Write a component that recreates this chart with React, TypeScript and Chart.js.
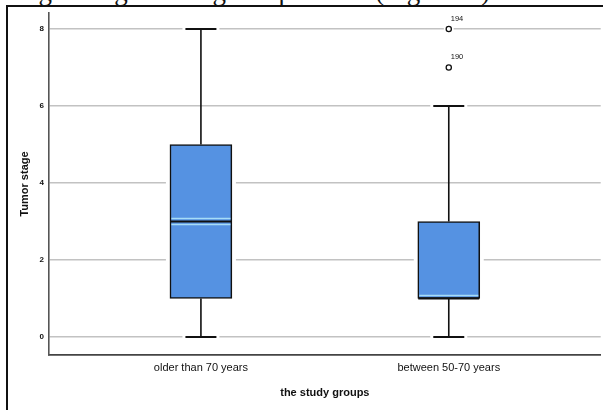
import React, { useEffect, useRef } from "react";
import { Chart, registerables } from "chart.js";

Chart.register(...registerables);

// ---- data ----
const categories = ["older than 70 years", "between 50-70 years"];
const whiskerLow = [0, 0];
const q1 = [1, 1];
const median = [3, 1];
const q3 = [5, 3];
const whiskerHigh = [8, 6];
const outlierGroup = [2, 2];
const outlierValues = [8, 7];
const outlierIds = ["194", "190"];
const yTicks = [0, 2, 4, 6, 8];

const BOX_FILL = "#5592e2";
const LINE = "#111";
const FONT = '"Liberation Sans", Arial, Helvetica, sans-serif';
const CANVAS_W = 606;
const CANVAS_H = 410;

const boxPlugin = {
  id: "boxParts",
  beforeDatasetsDraw(chart: any) {
    const { ctx, scales } = chart;
    const x = scales.x;
    const y = scales.y;
    const meta = chart.getDatasetMeta(0);
    ctx.save();
    ctx.fillStyle = "#fff";
    categories.forEach((_, i) => {
      const bar = meta.data[i];
      const cx = x.getPixelForValue(i + 1);
      const half = bar.width / 2;
      const top = y.getPixelForValue(q3[i]);
      const bot = y.getPixelForValue(q1[i]);
      ctx.fillRect(cx - half - 4, top - 1, 2 * half + 8, bot - top + 2);
      const capHalf = half / 2;
      const yl = y.getPixelForValue(whiskerLow[i]);
      const yh = y.getPixelForValue(whiskerHigh[i]);
      ctx.fillRect(cx - capHalf - 3, yl - 2, 2 * capHalf + 6, 4);
      ctx.fillRect(cx - capHalf - 3, yh - 2, 2 * capHalf + 6, 4);
    });
    outlierValues.forEach((v, k) => {
      const px = x.getPixelForValue(outlierGroup[k]);
      const py = y.getPixelForValue(v);
      ctx.beginPath();
      ctx.arc(px, py, 5, 0, Math.PI * 2);
      ctx.fill();
    });
    ctx.strokeStyle = LINE;
    categories.forEach((_, i) => {
      const bar = meta.data[i];
      const cx = x.getPixelForValue(i + 1);
      const capHalf = bar.width / 4;
      const top = y.getPixelForValue(q3[i]);
      const bot = y.getPixelForValue(q1[i]);
      const yl = y.getPixelForValue(whiskerLow[i]);
      const yh = y.getPixelForValue(whiskerHigh[i]);
      ctx.lineWidth = 1.6;
      ctx.beginPath();
      ctx.moveTo(cx, top);
      ctx.lineTo(cx, yh);
      ctx.moveTo(cx, bot);
      ctx.lineTo(cx, yl);
      ctx.stroke();
      ctx.lineWidth = 2;
      ctx.beginPath();
      ctx.moveTo(cx - capHalf, yh);
      ctx.lineTo(cx + capHalf, yh);
      ctx.moveTo(cx - capHalf, yl);
      ctx.lineTo(cx + capHalf, yl);
      ctx.stroke();
    });
    ctx.restore();
  },
  afterDatasetsDraw(chart: any) {
    const { ctx, scales } = chart;
    const x = scales.x;
    const y = scales.y;
    const meta = chart.getDatasetMeta(0);
    ctx.save();
    categories.forEach((_, i) => {
      const bar = meta.data[i];
      const cx = x.getPixelForValue(i + 1);
      const half = bar.width / 2 - 1.5;
      const top = y.getPixelForValue(q3[i]);
      const bot = y.getPixelForValue(q1[i]);
      const ym = y.getPixelForValue(median[i]);
      ctx.strokeStyle = "#a6dcf7";
      ctx.lineWidth = 1.5;
      [ym - 3, ym + 3].forEach((hy) => {
        if (hy > top + 2 && hy < bot - 1) {
          ctx.beginPath();
          ctx.moveTo(cx - half, hy);
          ctx.lineTo(cx + half, hy);
          ctx.stroke();
        }
      });
      ctx.strokeStyle = LINE;
      ctx.lineWidth = 2.2;
      ctx.beginPath();
      ctx.moveTo(cx - half - 1, ym);
      ctx.lineTo(cx + half + 1, ym);
      ctx.stroke();
    });
    ctx.fillStyle = "#111";
    ctx.font = `7.5px ${FONT}`;
    ctx.textAlign = "left";
    ctx.textBaseline = "alphabetic";
    outlierValues.forEach((v, k) => {
      const px = x.getPixelForValue(outlierGroup[k]);
      const py = y.getPixelForValue(v);
      ctx.fillText(outlierIds[k], px + 2, py - 8);
    });
    ctx.restore();
  },
};

export default function App() {
  const ref = useRef<HTMLCanvasElement | null>(null);

  useEffect(() => {
    if (!ref.current) return;
    const chart = new Chart(ref.current, {
      type: "bar",
      data: {
        datasets: [
          {
            type: "bar",
            data: categories.map((_, i) => ({ x: i + 1, y: [q1[i], q3[i]] })) as any,
            backgroundColor: BOX_FILL,
            borderColor: LINE,
            borderWidth: 1.6,
            borderSkipped: false,
            barThickness: 62,
          } as any,
          {
            type: "scatter",
            data: outlierValues.map((v, k) => ({ x: outlierGroup[k], y: v })),
            pointRadius: 2.6,
            pointBackgroundColor: "#fff",
            pointBorderColor: LINE,
            pointBorderWidth: 1.3,
          } as any,
        ],
      },
      options: {
        animation: false,
        responsive: false,
        devicePixelRatio: 1,
        layout: { padding: { left: 0, top: 13, right: 2, bottom: 0 } },
        plugins: {
          legend: { display: false },
          tooltip: { enabled: false },
        },
        scales: {
          x: {
            type: "linear",
            offset: false,
            min: 0.387,
            max: 2.613,
            afterBuildTicks: (s: any) => {
              s.ticks = categories.map((_, i) => ({ value: i + 1 }));
            },
            afterFit: (s: any) => {
              s.height = 55;
            },
            grid: { display: false, drawTicks: false, offset: false },
            border: { display: true, color: "#444", width: 1.8 },
            ticks: {
              padding: 6,
              color: "#111",
              font: { family: FONT, size: 11 },
              callback: (_v: any, i: number) => categories[i],
              maxRotation: 0,
              autoSkip: false,
            },
            title: {
              display: true,
              text: "the study groups",
              color: "#111",
              font: { family: FONT, size: 11, weight: "bold" },
              padding: { top: 0, bottom: 10.4 },
            },
          },
          y: {
            type: "linear",
            min: -0.4675,
            max: 8.415,
            afterBuildTicks: (s: any) => {
              s.ticks = yTicks.map((v) => ({ value: v }));
            },
            afterFit: (s: any) => {
              s.width = 49;
            },
            grid: { color: "#c2c2c2", lineWidth: 1.5, drawTicks: false },
            border: { display: true, color: "#555", width: 1.6 },
            ticks: {
              padding: 5,
              color: "#111",
              font: { family: FONT, size: 8, weight: "bold" },
            },
            title: {
              display: true,
              text: "Tumor stage",
              color: "#111",
              font: { family: FONT, size: 11, weight: "bold" },
              padding: { top: 18.4, bottom: 0 },
            },
          },
        },
      } as any,
      plugins: [boxPlugin],
    });
    return () => chart.destroy();
  }, []);

  return (
    <div
      style={{
        position: "fixed",
        left: 0,
        top: 0,
        width: 603,
        height: 410,
        overflow: "hidden",
        background: "#fff",
      }}
    >
      <div
        style={{
          position: "absolute",
          left: 4,
          top: -22,
          whiteSpace: "nowrap",
          fontFamily: '"Liberation Serif", "Times New Roman", serif',
          fontSize: 27,
          lineHeight: "27px",
          wordSpacing: 6,
          color: "#111",
        }}
      >
        ologic stage among all patients (Figure 4).
      </div>
      <canvas
        ref={ref}
        width={CANVAS_W}
        height={CANVAS_H}
        style={{ position: "absolute", left: 0, top: 0, width: CANVAS_W, height: CANVAS_H }}
      />
      <div
        style={{
          position: "absolute",
          left: 6,
          top: 5,
          width: 700,
          height: 500,
          border: "2px solid #111",
          pointerEvents: "none",
        }}
      />
    </div>
  );
}
